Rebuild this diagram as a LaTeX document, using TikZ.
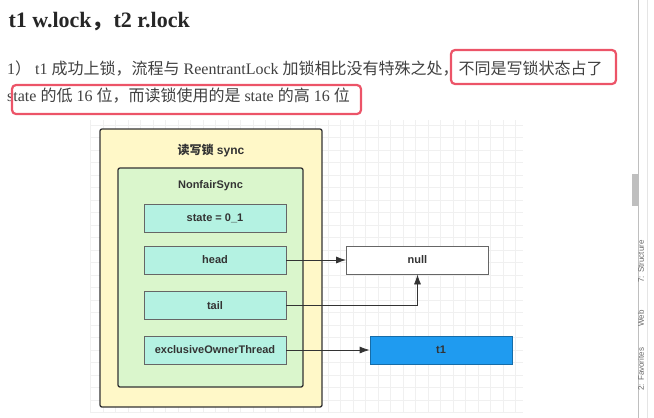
\documentclass[tikz,border=0pt]{standalone}
\usepackage{fontspec}
\setmainfont{Liberation Serif}
\setsansfont{Liberation Sans}
\newfontfamily\cjk{Noto Sans CJK SC}
\newcommand{\cn}[1]{{\cjk #1}}
\usetikzlibrary{arrows.meta}
\definecolor{ink}{HTML}{333333}
\definecolor{yellowfill}{HTML}{FFF8C8}
\definecolor{greenfill}{HTML}{DAF6CC}
\definecolor{cyanfill}{HTML}{B4F2E2}
\definecolor{bluefill}{HTML}{1F9BF0}
\definecolor{hilite}{HTML}{EC5468}
\definecolor{gridline}{HTML}{F0F0F0}

\begin{document}
\begin{tikzpicture}[
        x=1pt, y=-1pt,
        box/.style={draw=ink, line width=1.3pt, rounded corners=2pt},
        field/.style={draw=ink!75, fill=cyanfill, line width=0.8pt, minimum width=142pt, minimum height=28pt,
            font=\sffamily\bfseries\fontsize{11}{13}\selectfont, text=ink},
        label/.style={font=\sffamily\bfseries\fontsize{12}{14}\selectfont, text=ink},
        arrow/.style={-{Latex[length=10pt,width=7pt]}, ink, line width=0.8pt},
        redbox/.style={draw=hilite, line width=2.2pt, rounded corners=4pt},
        side/.style={font=\sffamily\fontsize{8}{9}\selectfont, text=black!60, rotate=90, anchor=west}
    ]
        \useasboundingbox (0,0) rectangle (654,418);

        % Page text
        \node[anchor=west, font=\bfseries\fontsize{22}{26}\selectfont, text=black!85] (title) at (5,22)
            {t1 w.lock\cn{\bfseries ，}t2 r.lock};
        \node[anchor=west, font=\fontsize{16}{19}\selectfont, text=black!75, inner sep=0pt] (line1) at (7,69)
            {1\cn{）} t1 \cn{成功上锁，流程与} ReentrantLock \cn{加锁相比没有特殊之处，不同是写锁状态占了}};
        \node[anchor=west, font=\fontsize{16}{19}\selectfont, text=black!75, inner sep=0pt] (line2) at (7,96)
            {state \cn{的低} 16 \cn{位，而读锁使用的是} state \cn{的高} 16 \cn{位}};
        \draw[redbox] (451,50) rectangle (616,84);
        \draw[redbox] (12,85) rectangle (361,114);

        % Grid
        \foreach \x in {90.5,103,...,523}
            \draw[gridline, line width=0.6pt] (\x,120) -- (\x,413);
        \foreach \y in {125,137.5,...,413}
            \draw[gridline, line width=0.6pt] (90,\y) -- (523,\y);

        % Containers
        \node[box, fill=yellowfill, minimum width=222pt, minimum height=278pt] (rwlock) at (211,268) {};
        \node[label] (rwlabel) at (211,151) {\cn{\bfseries 读写锁} sync};
        \node[box, fill=greenfill, minimum width=185pt, minimum height=219pt] (nonfair) at (210.5,277.5) {};
        \node[label, font=\sffamily\bfseries\fontsize{11}{13}\selectfont] (nflabel) at (210.5,186) {NonfairSync};

        % Fields
        \node[field] (state) at (215,218) {state = 0\_1};
        \node[field] (head) at (215,260) {head};
        \node[field] (tail) at (215,305.5) {tail};
        \node[field] (owner) at (215,350) {exclusiveOwnerThread};

        % Targets
        \node[field, fill=white, draw=black!60] (null) at (417.5,260) {null};
        \node[field, fill=bluefill, draw=bluefill!70!black] (tone) at (441,350) {t1};

        % Links
        \draw[arrow] (head) -- (null);
        \draw[arrow] (tail) -| (null);
        \draw[arrow] (owner) -- (tone);

        % Side bar
        \draw[black!25, line width=0.8pt] (638,0) -- (638,418);
        \draw[black!10, line width=0.6pt] (647,0) -- (647,418);
        \fill[black!25] (632,174) rectangle (638,206);
        \node[side] (structure) at (641,286) {7: Structure};
        \node[side] (web) at (641,330) {Web};
        \node[side] (favorites) at (641,394) {2: Favorites};
    \end{tikzpicture}
\end{document}
